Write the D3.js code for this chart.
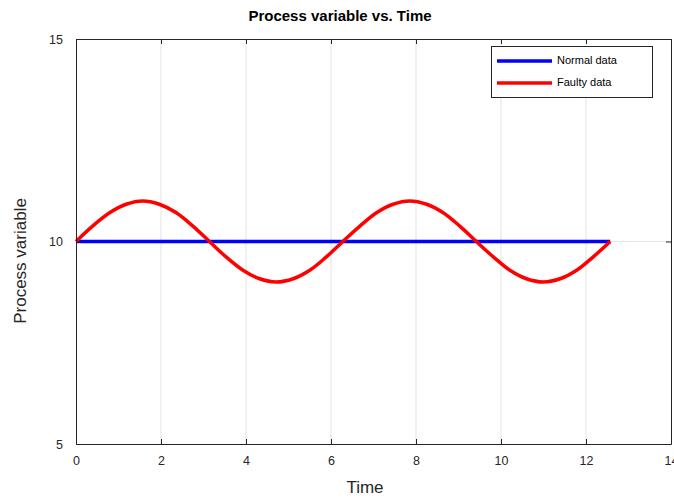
<!DOCTYPE html>
<html><head><meta charset="utf-8">
<script src="https://cdn.jsdelivr.net/npm/d3@7"></script>
<style>body{margin:0;background:#fff}svg{display:block;font-family:"Liberation Sans",Arial,Helvetica,sans-serif}</style>
</head><body><svg id="c" width="674" height="498"></svg>
<script>
const xTicks = [0, 2, 4, 6, 8, 10, 12, 14];
const yTicks = [5, 10, 15];
const timeFaulty = [0, 0.39, 0.79, 1.18, 1.57, 1.96, 2.36, 2.75, 3.14, 3.53, 3.93, 4.32, 4.71, 5.11, 5.50, 5.89, 6.28, 6.68, 7.07, 7.46, 7.85, 8.25, 8.64, 9.03, 9.42, 9.82, 10.21, 10.60, 11.00, 11.39, 11.78, 12.17, 12.57];
const faultyValues = [10, 10.38, 10.71, 10.92, 11.00, 10.92, 10.71, 10.38, 10.00, 9.62, 9.29, 9.08, 9.00, 9.08, 9.29, 9.62, 10.00, 10.38, 10.71, 10.92, 11.00, 10.92, 10.71, 10.38, 10.00, 9.62, 9.29, 9.08, 9.00, 9.08, 9.29, 9.62, 10.00];
const timeNormal = [0, 12.57];
const normalValues = [10, 10];
const seriesNames = ["Normal data", "Faulty data"];
const seriesColors = ["#0000ff", "#ff0000"];

const svg = d3.select("#c");
const L = 76, R = 671, T = 39, B = 444;
const x = d3.scaleLinear().domain([0, 14]).range([L, R]);
const y = d3.scaleLinear().domain([5, 15]).range([B, T]);

// grid
svg.append("g").selectAll("line").data(xTicks.slice(1, -1)).join("line")
  .attr("x1", d => x(d)).attr("x2", d => x(d)).attr("y1", T).attr("y2", B)
  .attr("stroke", "#e3e3e3").attr("stroke-width", 1);
svg.append("g").selectAll("line").data(yTicks.slice(1, -1)).join("line")
  .attr("y1", d => y(d)).attr("y2", d => y(d)).attr("x1", L).attr("x2", R)
  .attr("stroke", "#e3e3e3").attr("stroke-width", 1);

// lines
const line = d3.line().x(d => x(d[0])).y(d => y(d[1])).curve(d3.curveCatmullRom);
svg.append("path").datum(timeNormal.map((t, i) => [t, normalValues[i]]))
  .attr("d", line).attr("fill", "none").attr("stroke", seriesColors[0]).attr("stroke-width", 3.5);
svg.append("path").datum(timeFaulty.map((t, i) => [t, faultyValues[i]]))
  .attr("d", line).attr("fill", "none").attr("stroke", seriesColors[1]).attr("stroke-width", 3.5);

// axes
const tc = "#262626";
const ax = (g) => { g.select(".domain").attr("stroke", tc); g.selectAll(".tick line").attr("stroke", tc); g.selectAll("text").attr("fill", tc).style("font-size", "12.5px"); };
svg.append("g").attr("transform", `translate(0,${B})`)
  .call(d3.axisBottom(x).tickValues(xTicks).tickSize(-5).tickSizeOuter(0).tickPadding(12)).call(ax);
svg.append("g").attr("transform", `translate(0,${T})`)
  .call(d3.axisTop(x).tickValues(xTicks).tickSize(-5).tickSizeOuter(0).tickFormat("")).call(ax);
svg.append("g").attr("transform", `translate(${L},0)`)
  .call(d3.axisLeft(y).tickValues(yTicks).tickSize(-5).tickSizeOuter(0).tickPadding(13)).call(ax);
svg.append("g").attr("transform", `translate(${R},0)`)
  .call(d3.axisRight(y).tickValues(yTicks).tickSize(-5).tickSizeOuter(0).tickFormat("")).call(ax);
svg.selectAll(".domain").attr("stroke-width", 1);

// titles
svg.append("text").attr("x", 340).attr("y", 21).attr("text-anchor", "middle")
  .style("font-size", "15px").style("font-weight", "bold").attr("fill", "#000").text("Process variable vs. Time");
svg.append("text").attr("x", 365).attr("y", 493).attr("text-anchor", "middle")
  .style("font-size", "17px").attr("fill", tc).text("Time");
svg.append("text").attr("transform", `translate(26,261) rotate(-90)`).attr("text-anchor", "middle")
  .style("font-size", "17px").attr("fill", tc).text("Process variable");

// legend
const lg = svg.append("g");
lg.append("rect").attr("x", 491.5).attr("y", 46.5).attr("width", 161).attr("height", 51)
  .attr("fill", "#fff").attr("stroke", tc).attr("stroke-width", 1);
seriesNames.forEach((n, i) => {
  const yy = 61 + i * 22;
  lg.append("line").attr("x1", 497).attr("x2", 552).attr("y1", yy).attr("y2", yy)
    .attr("stroke", seriesColors[i]).attr("stroke-width", 3.5);
  lg.append("text").attr("x", 557).attr("y", yy + 0.5).attr("dominant-baseline", "middle")
    .style("font-size", "11px").attr("fill", "#000").text(n);
});
</script></body></html>
